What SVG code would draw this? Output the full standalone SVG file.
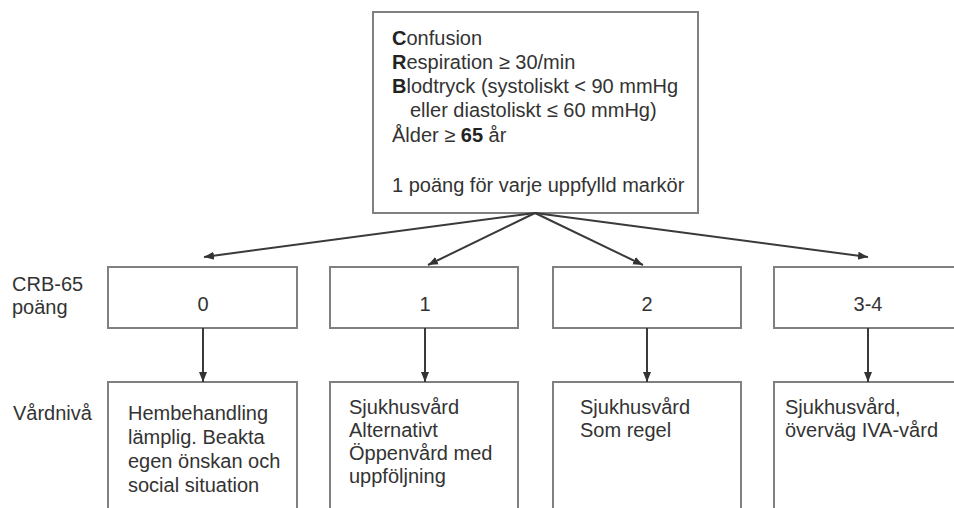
<svg xmlns="http://www.w3.org/2000/svg" width="954" height="508" viewBox="0 0 954 508">
<defs>
<marker id="ah" viewBox="0 0 10 10" refX="10" refY="5" markerWidth="10" markerHeight="10" markerUnits="userSpaceOnUse" orient="auto">
<path d="M0,1 L10,5 L0,9 Z" fill="#333"/>
</marker>
<style>
.box{fill:#fff;stroke:#808080;stroke-width:2}
.t{font-family:"Liberation Sans",Arial,sans-serif;font-size:20px;fill:#333}
.b{font-weight:bold;fill:#222}
.c{text-anchor:middle}
.ln{stroke:#3a3a3a;stroke-width:2;fill:none;marker-end:url(#ah)}
</style>
</defs>
<rect width="954" height="508" fill="#fff"/>
<g id="criteria">
<rect class="box" x="373" y="12" width="325" height="201"/>
<text class="t" x="392" y="45"><tspan class="b">C</tspan>onfusion</text>
<text class="t" x="392" y="69"><tspan class="b">R</tspan>espiration ≥ 30/min</text>
<text class="t" x="392" y="93"><tspan class="b">B</tspan>lodtryck (systoliskt &lt; 90 mmHg</text>
<text class="t" x="410" y="117">eller diastoliskt ≤ 60 mmHg)</text>
<text class="t" x="392" y="142">Ålder ≥ <tspan class="b">65</tspan> år</text>
<text class="t" x="392" y="192">1 poäng för varje uppfylld markör</text>
</g>
<g id="labels">
<text class="t" x="12" y="291">CRB-65</text>
<text class="t" x="12" y="314">poäng</text>
<text class="t" x="13" y="420">Vårdnivå</text>
</g>
<g id="score0">
<rect class="box" x="108" y="267" width="189" height="61"/>
<text class="t c" x="203" y="311">0</text>
</g>
<g id="score1">
<rect class="box" x="330" y="267" width="188" height="61"/>
<text class="t c" x="425" y="311">1</text>
</g>
<g id="score2">
<rect class="box" x="553" y="267" width="188" height="61"/>
<text class="t c" x="647" y="311">2</text>
</g>
<g id="score34">
<rect class="box" x="774" y="267" width="190" height="61"/>
<text class="t c" x="868" y="311">3-4</text>
</g>
<g id="care0">
<rect class="box" x="108" y="382" width="189" height="140"/>
<text class="t" x="128" y="420">Hembehandling</text>
<text class="t" x="128" y="444">lämplig. Beakta</text>
<text class="t" x="128" y="468">egen önskan och</text>
<text class="t" x="128" y="492">social situation</text>
</g>
<g id="care1">
<rect class="box" x="330" y="382" width="188" height="140"/>
<text class="t" x="349" y="414">Sjukhusvård</text>
<text class="t" x="349" y="437">Alternativt</text>
<text class="t" x="349" y="460">Öppenvård med</text>
<text class="t" x="349" y="483">uppföljning</text>
</g>
<g id="care2">
<rect class="box" x="553" y="382" width="188" height="140"/>
<text class="t" x="580" y="414">Sjukhusvård</text>
<text class="t" x="580" y="437">Som regel</text>
</g>
<g id="care34">
<rect class="box" x="774" y="382" width="190" height="140"/>
<text class="t" x="785" y="414">Sjukhusvård,</text>
<text class="t" x="785" y="437">överväg IVA-vård</text>
</g>
<g id="connectors">
<line class="ln" x1="535" y1="213" x2="204" y2="257"/>
<line class="ln" x1="535" y1="213" x2="428" y2="265"/>
<line class="ln" x1="535" y1="213" x2="643" y2="265"/>
<line class="ln" x1="535" y1="213" x2="868" y2="257"/>
<line class="ln" x1="203" y1="328" x2="203" y2="382"/>
<line class="ln" x1="425" y1="328" x2="425" y2="382"/>
<line class="ln" x1="647" y1="328" x2="647" y2="382"/>
<line class="ln" x1="868" y1="328" x2="868" y2="382"/>
</g>
</svg>
